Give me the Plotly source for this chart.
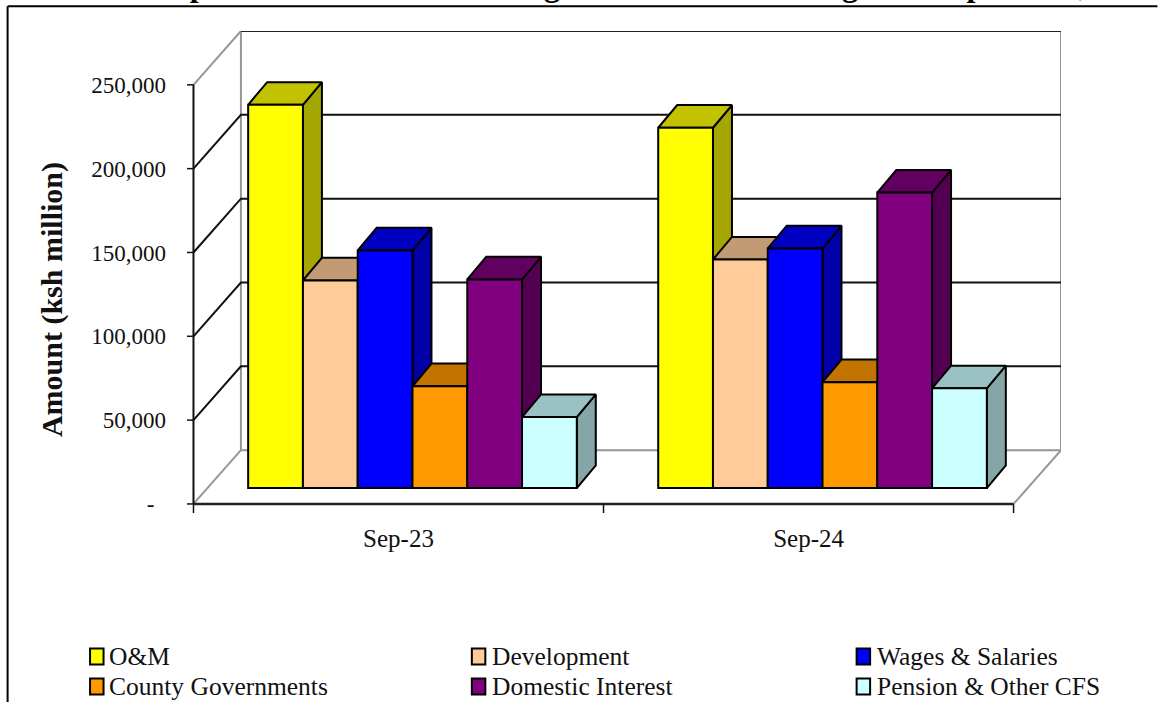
import plotly.graph_objects as go

# Data (ksh million)
PERIODS = ["Sep-23", "Sep-24"]
OM = [228600, 214900]
DEVELOPMENT = [123800, 136300]
WAGES = [141700, 142900]
COUNTY = [60700, 63100]
INTEREST = [124400, 176200]
PENSION = [42300, 59500]

SERIES = [
    ("O&M", OM, "#FFFF00", "#C2C200", "#A6A600"),
    ("Development", DEVELOPMENT, "#FFCC99", "#C29B74", "#A68563"),
    ("Wages & Salaries", WAGES, "#0000FF", "#0000C2", "#0000A6"),
    ("County Governments", COUNTY, "#FF9900", "#C27400", "#A66300"),
    ("Domestic Interest", INTEREST, "#800080", "#610061", "#530053"),
    ("Pension & Other CFS", PENSION, "#CCFFFF", "#9BC2C2", "#85A6A6"),
]

TICK_VALUES = [0, 50000, 100000, 150000, 200000, 250000]
TICK_LABELS = ["-\u00a0\u00a0", "50,000", "100,000", "150,000", "200,000", "250,000"]

# Oblique projection: every depth offset is expressed in axis units
WALL_DX, WALL_DY = 0.1157, 32100      # front plane to back wall
BAR_DX, BAR_DY = 0.0463, 13500        # front face of a bar to its back face
SHIFT_DX, SHIFT_DY = 0.0341, 9500     # front plane to bar front faces
BAR_GAP = 0.1985
BAR_W = (1 - BAR_GAP) / len(SERIES)
X_MIN, X_MAX = -0.5, 1.5
Y_TOP = 250000
TICK_DX, TICK_DY = 0.0158, 5400       # tick lengths; the axis ranges leave room for them
FONT = "Liberation Serif"
WALL_GREY = "#969696"

# Plot area in page pixels, used to place page-level furniture
PLOT_L, PLOT_R, PLOT_T, PLOT_B = 187.0, 1061.5, 31.0, 513.0

# Three-column key below the plot
KEY_SWATCH_X = [90, 472, 857]
KEY_TEXT_X = [107, 490, 875]
KEY_ROW_Y = [656.5, 686.5]
KEY_SWATCH_W, KEY_SWATCH_H = 13.5, 16


def page_x(px):
    return (px - PLOT_L) / (PLOT_R - PLOT_L)


def page_y(py):
    return (PLOT_B - py) / (PLOT_B - PLOT_T)


fig = go.Figure()


def poly_line(xs, ys, color, width=2):
    fig.add_trace(go.Scatter(x=xs, y=ys, mode="lines", showlegend=False, hoverinfo="skip",
                             cliponaxis=False, line=dict(color=color, width=width)))


def face(xs, ys, color):
    fig.add_trace(go.Scatter(x=xs + xs[:1], y=ys + ys[:1], mode="lines", fill="toself",
                             fillcolor=color, showlegend=False, hoverinfo="skip",
                             cliponaxis=False, line=dict(color="#000000", width=2)))


# Back wall and floor outline
back_l, back_r = X_MIN + WALL_DX, X_MAX + WALL_DX
poly_line([back_l, back_l], [WALL_DY, Y_TOP + WALL_DY], WALL_GREY)
poly_line([back_r, back_r], [WALL_DY, Y_TOP + WALL_DY], WALL_GREY)
poly_line([back_l, back_r], [WALL_DY, WALL_DY], WALL_GREY)
poly_line([X_MIN, back_l], [0, WALL_DY], WALL_GREY)
poly_line([X_MAX, back_r], [0, WALL_DY], WALL_GREY)
poly_line([X_MIN, back_l], [Y_TOP, Y_TOP + WALL_DY], WALL_GREY)

# Gridlines run along the side wall and across the back wall
for v in TICK_VALUES[1:]:
    if v < Y_TOP:
        poly_line([X_MIN, back_l, back_r], [v, v + WALL_DY, v + WALL_DY], "#111111")
poly_line([back_l, back_r], [Y_TOP + WALL_DY, Y_TOP + WALL_DY], "#222222")

# Axis lines and tick marks on the front plane
poly_line([X_MIN, X_MIN], [0, Y_TOP], "#111111")
poly_line([X_MIN, X_MAX], [0, 0], "#222222", 2.5)
for v in TICK_VALUES:
    poly_line([X_MIN - TICK_DX, X_MIN], [v, v], "#111111", 1.5)
for x in [X_MIN, 0.5, X_MAX]:
    poly_line([x, x], [0, -TICK_DY], "#111111", 1.5)

# Side and top faces, left to right so each bar covers the one before it
for p in range(len(PERIODS)):
    for i, (name, vals, front, top, side) in enumerate(SERIES):
        x0 = p + SHIFT_DX - 3 * BAR_W + i * BAR_W
        x1 = x0 + BAR_W
        y0 = SHIFT_DY
        y1 = SHIFT_DY + vals[p]
        face([x1, x1 + BAR_DX, x1 + BAR_DX, x1], [y0, y0 + BAR_DY, y1 + BAR_DY, y1], side)
        face([x0, x0 + BAR_DX, x1 + BAR_DX, x1], [y1, y1 + BAR_DY, y1 + BAR_DY, y1], top)

# Front faces sit on an overlaid axis pair so they stay above every side face
for name, vals, front, top, side in SERIES:
    fig.add_trace(go.Bar(
        name=name,
        x=[p + SHIFT_DX for p in range(len(PERIODS))],
        y=vals,
        base=[SHIFT_DY] * len(PERIODS),
        xaxis="x2", yaxis="y2", showlegend=False,
        marker=dict(color=front, line=dict(color="#000000", width=2)),
    ))

x_range = [X_MIN - TICK_DX, back_r]
y_range = [-TICK_DY, Y_TOP + WALL_DY]

# Page frame
shapes = [
    dict(type="line", xref="paper", yref="paper", x0=page_x(7.5), x1=page_x(7.5),
         y0=page_y(702), y1=page_y(6.3), line=dict(color="#000000", width=2)),
    dict(type="line", xref="paper", yref="paper", x0=page_x(7.5), x1=page_x(1158),
         y0=page_y(6.3), y1=page_y(6.3), line=dict(color="#000000", width=2)),
]

annotations = [
    dict(text="<b>Amount (ksh million)</b>", textangle=-90, xref="paper", yref="paper",
         x=page_x(52), y=page_y(300), xanchor="center", yanchor="middle", showarrow=False,
         font=dict(size=30, family=FONT, color="#111111")),
    dict(text="<b>Chart 1: Expenditure and Net Lending for the Period ending 30th September, 2024</b>",
         xref="paper", yref="paper", x=page_x(26), y=page_y(5.5), xanchor="left", yanchor="bottom",
         showarrow=False, font=dict(size=32, family=FONT, color="#000000")),
]

# Key entries, filled row by row
for i, (name, vals, front, top, side) in enumerate(SERIES):
    col, row = i % 3, i // 3
    sx, ty = KEY_SWATCH_X[col], KEY_ROW_Y[row]
    shapes.append(dict(type="rect", xref="paper", yref="paper",
                       x0=page_x(sx), x1=page_x(sx + KEY_SWATCH_W),
                       y0=page_y(ty - KEY_SWATCH_H / 2), y1=page_y(ty + KEY_SWATCH_H / 2),
                       fillcolor=front, line=dict(color="#000000", width=2)))
    annotations.append(dict(text=name, xref="paper", yref="paper", x=page_x(KEY_TEXT_X[col]),
                            y=page_y(ty), xanchor="left", yanchor="middle", showarrow=False,
                            font=dict(size=25.5, family=FONT, color="#111111")))

fig.update_layout(
    width=1158, height=702,
    margin=dict(l=PLOT_L, r=1158 - PLOT_R, t=PLOT_T, b=702 - PLOT_B, autoexpand=False),
    paper_bgcolor="#FFFFFF", plot_bgcolor="#FFFFFF",
    barmode="group", bargap=BAR_GAP, bargroupgap=0,
    font=dict(family=FONT, color="#111111", size=24),
    showlegend=False,
    xaxis=dict(range=x_range, tickmode="array", tickvals=list(range(len(PERIODS))),
               ticktext=PERIODS, showgrid=False, zeroline=False, showline=False,
               ticks="", ticklabelstandoff=8, tickfont=dict(size=25)),
    yaxis=dict(range=y_range, tickmode="array", tickvals=TICK_VALUES, ticktext=TICK_LABELS,
               showgrid=False, zeroline=False, showline=False, ticks="",
               ticklabelstandoff=20, tickfont=dict(size=23)),
    xaxis2=dict(range=x_range, overlaying="x", anchor="y2", visible=False),
    yaxis2=dict(range=y_range, overlaying="y", anchor="x2", visible=False),
    shapes=shapes,
    annotations=annotations,
)

fig.write_html("out.html")
